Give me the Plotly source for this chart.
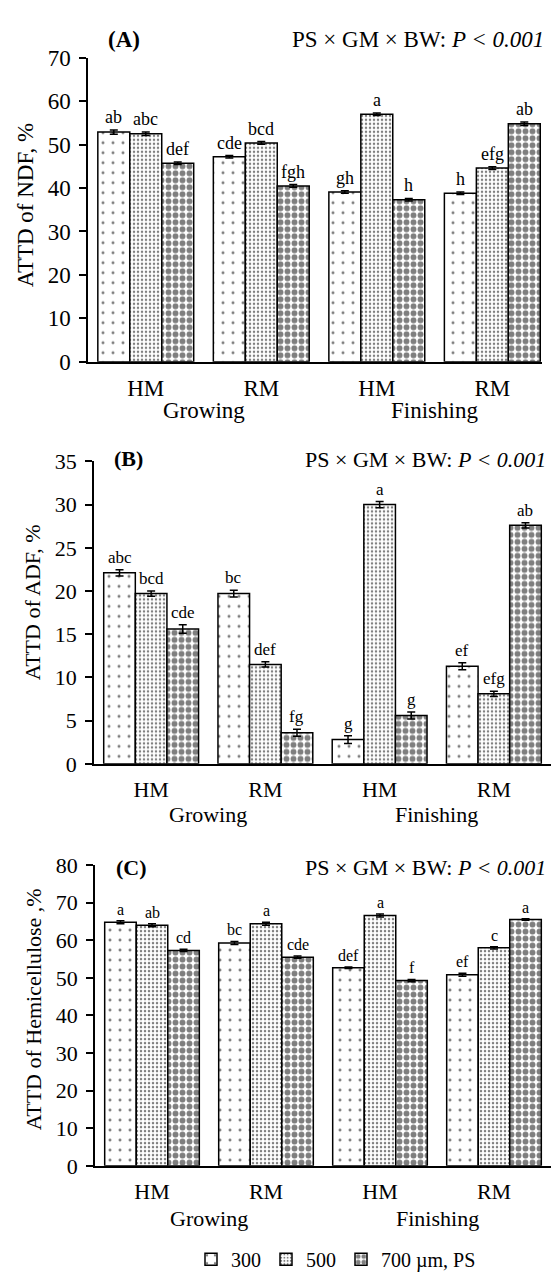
import plotly.graph_objects as go

W, H = 551, 1287
FONT = "Liberation Serif"

categories = ["Growing HM", "Growing RM", "Finishing HM", "Finishing RM"]
tick_labels = ["HM", "RM", "HM", "RM"]
stage_labels = ["Growing", "Finishing"]
sizes = ["300", "500", "700 µm, PS"]

# Panel A: ATTD of NDF
ndf_300 = [52.9, 47.2, 39.1, 38.8]
ndf_500 = [52.5, 50.4, 57.0, 44.6]
ndf_700 = [45.7, 40.5, 37.3, 54.8]
ndf_err_300 = [0.5, 0.3, 0.3, 0.3]
ndf_err_500 = [0.4, 0.3, 0.3, 0.3]
ndf_err_700 = [0.3, 0.3, 0.3, 0.4]
ndf_let_300 = ["ab", "cde", "gh", "h"]
ndf_let_500 = ["abc", "bcd", "a", "efg"]
ndf_let_700 = ["def", "fgh", "h", "ab"]

# Panel B: ATTD of ADF
adf_300 = [22.1, 19.7, 2.8, 11.3]
adf_500 = [19.7, 11.5, 30.0, 8.1]
adf_700 = [15.6, 3.6, 5.6, 27.6]
adf_err_300 = [0.35, 0.4, 0.45, 0.4]
adf_err_500 = [0.3, 0.3, 0.35, 0.3]
adf_err_700 = [0.5, 0.4, 0.4, 0.3]
adf_let_300 = ["abc", "bc", "g", "ef"]
adf_let_500 = ["bcd", "def", "a", "efg"]
adf_let_700 = ["cde", "fg", "g", "ab"]

# Panel C: ATTD of Hemicellulose
hem_300 = [64.8, 59.3, 52.7, 50.8]
hem_500 = [64.0, 64.4, 66.6, 58.0]
hem_700 = [57.3, 55.5, 49.3, 65.5]
hem_err_300 = [0.4, 0.4, 0.2, 0.4]
hem_err_500 = [0.4, 0.4, 0.4, 0.3]
hem_err_700 = [0.3, 0.3, 0.3, 0.2]
hem_let_300 = ["a", "bc", "def", "ef"]
hem_let_500 = ["ab", "a", "a", "c"]
hem_let_700 = ["cd", "cde", "f", "a"]

BARGAP = 0.17


def px(x):
    return x / W


def py(y):
    return 1 - y / H


patterns = [
    dict(shape=".", size=10, solidity=0.07, fgcolor="black", bgcolor="white", fillmode="overlay"),
    dict(shape=".", size=4, solidity=0.3, fgcolor="black", bgcolor="white", fillmode="overlay"),
    dict(shape=".", size=7, solidity=0.55, fgcolor="black", bgcolor="white", fillmode="overlay"),
]

panels = [
    dict(vals=[ndf_300, ndf_500, ndf_700], errs=[ndf_err_300, ndf_err_500, ndf_err_700],
         lets=[ndf_let_300, ndf_let_500, ndf_let_700], ymax=70, dtick=10,
         ydom=(py(356.7), py(46.7)), xdom=(px(88), px(542)), xrange=[-0.5, 3.43],
         ylabel="ATTD of NDF, %", tag="(A)", fs=23, lfs=18,
         ytitle=(25, 197), tagpos=(106, 28), ppos=(546, 28), stage_y=406),
    dict(vals=[adf_300, adf_500, adf_700], errs=[adf_err_300, adf_err_500, adf_err_700],
         lets=[adf_let_300, adf_let_500, adf_let_700], ymax=35, dtick=5,
         ydom=(py(766.7), py(458.3)), xdom=(px(94), 1.0), xrange=[-0.5, 3.5],
         ylabel="ATTD of ADF, %", tag="(B)", fs=22, lfs=17,
         ytitle=(32, 602), tagpos=(112, 455), ppos=(548, 456), stage_y=818),
    dict(vals=[hem_300, hem_500, hem_700], errs=[hem_err_300, hem_err_500, hem_err_700],
         lets=[hem_let_300, hem_let_500, hem_let_700], ymax=80, dtick=10,
         ydom=(py(1176.7), py(870)), xdom=(px(95), 1.0), xrange=[-0.5, 3.5],
         ylabel="ATTD of Hemicellulose ,%", tag="(C)", fs=22, lfs=16,
         ytitle=(33, 1017), tagpos=(114, 872), ppos=(548, 872), stage_y=1230),
]

fig = go.Figure()
annotations = []
layout = {}
bar_w = (1 - BARGAP) / 3

for i, p in enumerate(panels):
    n = "" if i == 0 else str(i + 1)
    xa, ya = "x" + n, "y" + n
    for k in range(3):
        fig.add_trace(go.Bar(
            x=categories, y=p["vals"][k], name=sizes[k],
            xaxis=xa, yaxis=ya,
            marker=dict(color="white", line=dict(color="black", width=1.5), pattern=patterns[k]),
            error_y=dict(type="data", array=p["errs"][k], color="black", thickness=1.5, width=4),
            showlegend=(i == 2), legendgroup=sizes[k],
            offsetgroup=str(k),
        ))
        for j in range(len(categories)):
            annotations.append(dict(
                x=j + (k - 1) * bar_w, y=p["vals"][k][j] + p["errs"][k][j], xref=xa, yref=ya,
                text=p["lets"][k][j], showarrow=False, yanchor="bottom", yshift=1,
                font=dict(family=FONT, size=p["lfs"], color="black"),
            ))
    layout["xaxis" + n] = dict(
        domain=list(p["xdom"]), anchor=ya, type="category", range=p["xrange"],
        tickmode="array", tickvals=categories, ticktext=tick_labels,
        showline=True, linecolor="black", linewidth=2, ticks="",
        ticklabelstandoff=5,
        tickfont=dict(family=FONT, size=p["fs"], color="black"),
        showgrid=False, zeroline=False, fixedrange=True,
    )
    layout["yaxis" + n] = dict(
        domain=list(p["ydom"]), anchor=xa, range=[0, p["ymax"]], dtick=p["dtick"],
        showline=True, linecolor="black", linewidth=1.5, ticks="outside", ticklen=7,
        tickwidth=1.5, tickcolor="black", ticklabelstandoff=4,
        tickfont=dict(family=FONT, size=p["fs"], color="black"),
        showgrid=False, zeroline=False,
    )
    for s, xpos in zip(stage_labels, [0.5, 2.5]):
        annotations.append(dict(
            x=xpos, y=py(p["stage_y"]), xref=xa, yref="paper", text=s, showarrow=False,
            yanchor="middle", font=dict(family=FONT, size=p["fs"], color="black"),
        ))
    annotations.append(dict(
        x=px(p["ytitle"][0]), y=py(p["ytitle"][1]), xref="paper", yref="paper",
        text=p["ylabel"], textangle=-90, showarrow=False, xanchor="center", yanchor="middle",
        font=dict(family=FONT, size=p["fs"], color="black"),
    ))
    annotations.append(dict(
        x=px(p["tagpos"][0]), y=py(p["tagpos"][1]), xref="paper", yref="paper",
        text="<b>" + p["tag"] + "</b>", showarrow=False, xanchor="left", yanchor="middle",
        font=dict(family=FONT, size=p["fs"], color="black"),
    ))
    annotations.append(dict(
        x=px(p["ppos"][0]), y=py(p["ppos"][1]), xref="paper", yref="paper",
        text="PS × GM × BW: <i>P < 0.001</i>", showarrow=False, xanchor="right", yanchor="middle",
        font=dict(family=FONT, size=p["fs"], color="black"),
    ))

fig.update_layout(
    width=W, height=H, margin=dict(l=0, r=0, t=0, b=0),
    paper_bgcolor="white", plot_bgcolor="white",
    barmode="group", bargap=BARGAP, bargroupgap=0,
    font=dict(family=FONT, color="black"),
    annotations=annotations,
    legend=dict(orientation="h", x=px(336), y=py(1272), xanchor="center", yanchor="middle",
                font=dict(family=FONT, size=20, color="black"), itemwidth=30,
                bgcolor="rgba(0,0,0,0)", tracegroupgap=0),
    **layout,
)

fig.write_html("out.html")
